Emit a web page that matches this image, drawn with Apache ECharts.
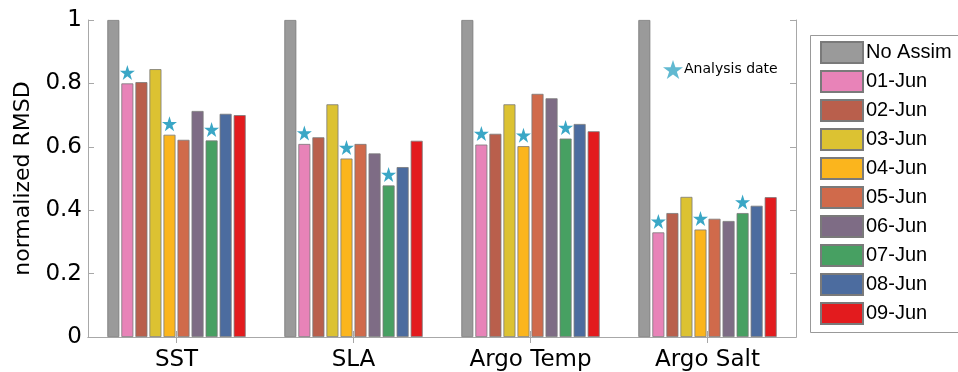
<!DOCTYPE html>
<html><head><meta charset="utf-8">
<script src="https://cdn.jsdelivr.net/npm/echarts@6/dist/echarts.min.js"></script>
<style>html,body{margin:0;padding:0;background:#fff}#c{width:958px;height:372px}</style>
</head><body><div id="c"></div>
<script>
const categories = ['SST', 'SLA', 'Argo Temp', 'Argo Salt'];
const seriesNames = ['No Assim', '01-Jun', '02-Jun', '03-Jun', '04-Jun', '05-Jun', '06-Jun', '07-Jun', '08-Jun', '09-Jun'];
const noAssim = [1, 1, 1, 1];
const jun01 = [0.800, 0.609, 0.607, 0.330];
const jun02 = [0.804, 0.630, 0.641, 0.391];
const jun03 = [0.845, 0.734, 0.734, 0.442];
const jun04 = [0.638, 0.563, 0.602, 0.339];
const jun05 = [0.622, 0.609, 0.767, 0.373];
const jun06 = [0.713, 0.579, 0.753, 0.366];
const jun07 = [0.620, 0.478, 0.626, 0.391];
const jun08 = [0.704, 0.536, 0.672, 0.414];
const jun09 = [0.700, 0.619, 0.649, 0.441];
const seriesValues = [noAssim, jun01, jun02, jun03, jun04, jun05, jun06, jun07, jun08, jun09];
const analysisSeries = ['01-Jun', '04-Jun', '07-Jun'];
const yTicks = [0, 0.2, 0.4, 0.6, 0.8, 1];

const colors = ['#9a9a9a', '#e883b8', '#b95f4c', '#dcc232', '#fbb51d', '#d06a4b', '#7e6c85', '#47a062', '#4c6c9f', '#e31b1e'];
const starColor = '#3aa7c6';
const starPath = 'path://M50,0 L61.8,35.4 L99,35.4 L69,57.3 L80.4,92.7 L50,70.8 L19.6,92.7 L31,57.3 L1,35.4 L38.2,35.4 Z';

const chart = echarts.init(document.getElementById('c'));
const series = seriesNames.map((name, i) => {
  const s = {
    name: name, type: 'bar', xAxisIndex: 0, yAxisIndex: 0,
    data: seriesValues[i], barWidth: 12, barGap: '17%',
    itemStyle: { color: colors[i], borderColor: '#7a7a7a', borderWidth: 0.8 },
    emphasis: { disabled: true }
  };
  if (analysisSeries.includes(name)) {
    s.markPoint = {
      symbol: starPath, symbolSize: 15, symbolOffset: [0, -11],
      label: { show: false },
      itemStyle: { color: starColor },
      data: categories.map((c, k) => ({ coord: [k, seriesValues[i][k]] }))
    };
  }
  return s;
});
series.push({ name: 'Analysis date', type: 'scatter', data: [], itemStyle: { color: starColor } });

const axisLineStyle = { color: '#a8a8a8', width: 1 };
chart.setOption({
  animation: false,
  grid: { left: 88, right: 162, top: 20, bottom: 30 },
  graphic: [{
    type: 'rect', left: 810, top: 35, z: 0,
    shape: { width: 200, height: 297 },
    style: { fill: '#fff', stroke: '#999', lineWidth: 1 }
  }],
  legend: [{
    data: seriesNames, orient: 'vertical', left: 810, top: 35,
    itemWidth: 42, itemHeight: 21, itemGap: 6,
    padding: [6, 10, 10, 10],
    icon: 'rect', z: 5,
    textStyle: { fontFamily: 'Liberation Sans', fontSize: 20, color: '#000', padding: [0, 0, 0, -2] },
    selectedMode: false
  }, {
    data: ['Analysis date'], left: 658, top: 55,
    itemWidth: 20, itemHeight: 20, icon: starPath,
    textStyle: { fontFamily: 'DejaVu Sans', fontSize: 14, color: '#000', padding: [0, 0, 0, -4] },
    selectedMode: false
  }],
  xAxis: [{
    type: 'category', data: categories, position: 'bottom',
    axisLine: { lineStyle: axisLineStyle },
    axisTick: { show: true, alignWithLabel: true, inside: true, length: 6, lineStyle: axisLineStyle },
    axisLabel: { fontFamily: 'DejaVu Sans', fontSize: 23, color: '#000', margin: 12 }
  }, {
    type: 'category', data: categories, position: 'top',
    axisLine: { lineStyle: axisLineStyle },
    axisTick: { show: true, alignWithLabel: true, inside: true, length: 6, lineStyle: axisLineStyle },
    axisLabel: { show: false }
  }],
  yAxis: [{
    type: 'value', min: 0, max: 1, interval: 0.2, position: 'left',
    name: 'normalized RMSD', nameLocation: 'middle', nameGap: 53,
    nameTextStyle: { fontFamily: 'DejaVu Sans', fontSize: 22, color: '#000' },
    axisLine: { show: true, lineStyle: axisLineStyle },
    axisTick: { show: true, inside: true, length: 6, lineStyle: axisLineStyle },
    splitLine: { show: false },
    axisLabel: { fontFamily: 'DejaVu Sans', fontSize: 23, color: '#000', margin: 6,
      formatter: v => { const t = yTicks.find(x => Math.abs(x - v) < 1e-9); return t === undefined ? '' : String(t); } }
  }, {
    type: 'value', min: 0, max: 1, interval: 0.2, position: 'right',
    axisLine: { show: true, lineStyle: axisLineStyle },
    axisTick: { show: true, inside: true, length: 6, lineStyle: axisLineStyle },
    splitLine: { show: false }, axisLabel: { show: false }
  }],
  series: series
});
</script></body></html>
